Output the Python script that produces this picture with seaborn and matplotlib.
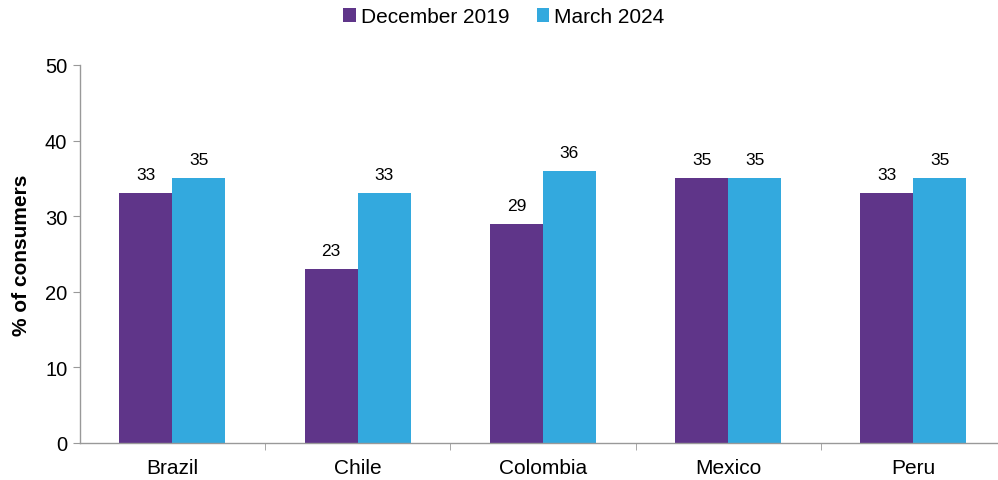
import numpy as np
import pandas as pd
import matplotlib
matplotlib.use('Agg')
import matplotlib.pyplot as plt
import seaborn as sns
from matplotlib.ticker import FixedLocator

# Data
countries = ["Brazil", "Chile", "Colombia", "Mexico", "Peru"]
dec_2019 = [33, 23, 29, 35, 33]
mar_2024 = [35, 33, 36, 35, 35]
series_names = ["December 2019", "March 2024"]

df = pd.DataFrame({
    "country": countries * 2,
    "value": dec_2019 + mar_2024,
    "period": [series_names[0]] * len(countries) + [series_names[1]] * len(countries),
})

sns.set_style("white")
plt.rcParams['font.family'] = ['Liberation Sans', 'DejaVu Sans']
plt.rcParams['text.color'] = 'black'
plt.rcParams['axes.labelcolor'] = 'black'
plt.rcParams['xtick.labelcolor'] = 'black'
plt.rcParams['ytick.labelcolor'] = 'black'

fig = plt.figure(figsize=(9.98, 4.81), dpi=100)
ax = fig.add_axes([0.080, 0.077, 0.928, 0.786])

sns.barplot(data=df, x="country", y="value", hue="period",
            palette=["#5F3589", "#33A9DE"], width=0.572, gap=0,
            saturation=1, ax=ax, linewidth=0)

for cont in ax.containers:
    ax.bar_label(cont, fmt="%d", padding=8, fontsize=12.5, color="black")

ax.set_ylim(0, 50)
ax.set_yticks(range(0, 51, 10))
ax.set_xlim(-0.5, len(countries) - 0.5)
ax.set_xlabel("")
ax.set_ylabel("% of consumers", fontsize=15, fontweight="bold", labelpad=10)

for s in ["top", "right"]:
    ax.spines[s].set_visible(False)
for s in ["left", "bottom"]:
    ax.spines[s].set_color("#999999")
    ax.spines[s].set_linewidth(1)

ax.tick_params(axis="y", which="major", left=True, length=5, color="#999999",
               labelsize=14.5, pad=4)
ax.tick_params(axis="x", which="major", bottom=False, labelsize=15, pad=7)
ax.xaxis.set_minor_locator(FixedLocator(np.arange(0.5, len(countries) - 0.5, 1)))
ax.tick_params(axis="x", which="minor", bottom=True, length=5, color="#999999")

ax.legend(loc="upper center", bbox_to_anchor=(0.458, 1.152), ncol=2, frameon=False,
          fontsize=15, handlelength=0.6, handleheight=0.6, handletextpad=0.25,
          columnspacing=1.3, borderaxespad=0, borderpad=0)

fig.savefig("out.png", dpi=100)
